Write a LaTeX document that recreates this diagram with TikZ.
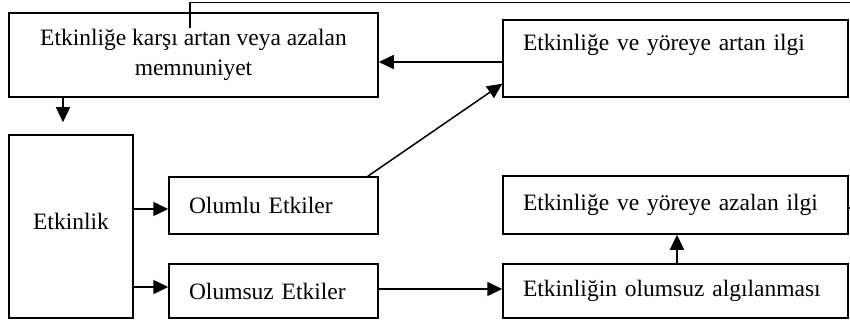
\documentclass[tikz,border=0pt]{standalone}
\usepackage{fontspec}
\setmainfont{Liberation Serif}
\usetikzlibrary{arrows.meta}
\begin{document}
\begin{tikzpicture}[x=1pt,y=-1pt,
  box/.style={draw,line width=1.5pt,inner sep=0pt,font=\fontsize{23.5}{30}\selectfont},
  lbox/.style={box,align=left,inner xsep=20pt},
  conn/.style={line width=1.5pt},
  arr/.style={conn,-{Triangle[length=15pt,width=14pt]}}
]
\useasboundingbox (0,0) rectangle (850,323);
\node[box,align=center,minimum width=369pt,minimum height=84pt] (A) at (193.5,55)
  {Etkinliğe karşı artan veya azalan\\memnuniyet};
\node[lbox,text width=305pt,minimum height=77pt,text height=17pt,text depth=33pt] (B) at (675.5,58.5)
  {Etkinliğe ve yöreye artan ilgi};
\node[box,minimum width=124pt,minimum height=183pt,text height=17pt,text depth=11pt] (E) at (71,226.5) {Etkinlik};
\node[lbox,text width=169pt,minimum height=57pt] (P) at (273.5,205.5) {Olumlu Etkiler};
\node[lbox,text width=169pt,minimum height=54pt] (N) at (273.5,291) {Olumsuz Etkiler};
\node[lbox,text width=305pt,minimum height=58pt] (C) at (675.5,205) {Etkinliğe ve yöreye azalan ilgi};
\node[lbox,text width=305pt,minimum height=54pt] (D) at (675.5,291) {Etkinliğin olumsuz algılanması};
\coordinate (topstart) at (190,28);
\coordinate (topend) at (850,2.5);
\coordinate (stubend) at (850,208);
% connectors
\draw[conn] (topstart) |- (topend);
\draw[conn] (C.east |- stubend) -- (stubend);
\draw[arr] (B.west |- 0,62) -- (A.east |- 0,62);
\draw[arr,shorten >=12pt] (A.south -| 63,0) -- (E.north -| 63,0);
\draw[arr] (E.east |- 0,209) -- (P.west |- 0,209);
\draw[arr] (E.east |- 0,287) -- (N.west |- 0,287);
\draw[arr] ([xshift=-11pt]P.north east) -- ([yshift=14pt]B.south west);
\draw[arr] (N.east |- 0,289) -- (D.west |- 0,289);
\draw[arr] (D.north -| 677,0) -- (C.south -| 677,0);
\end{tikzpicture}
\end{document}
